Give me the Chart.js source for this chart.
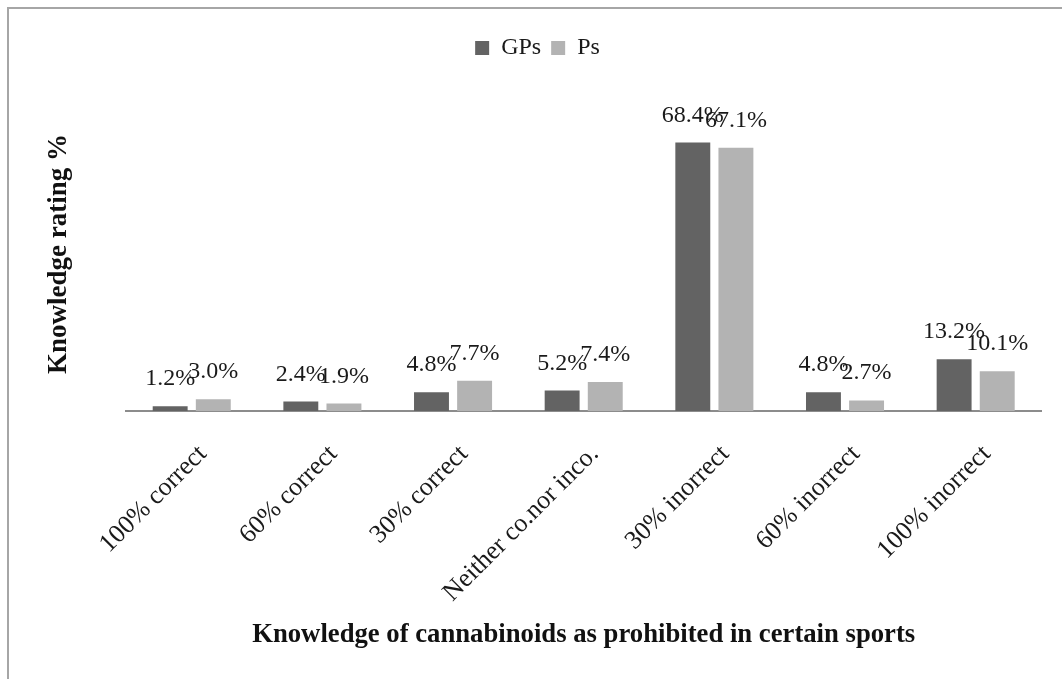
<!DOCTYPE html>
<html>
<head>
<meta charset="utf-8">
<script src="https://cdn.jsdelivr.net/npm/chart.js@4.4.0/dist/chart.umd.min.js"></script>
<style>
  body { margin: 0; background: #fff; }
  #wrap { position: relative; width: 1062px; height: 679px; }
  #frame { position: absolute; left: 7px; top: 7px; right: 0; bottom: 0;
           border-top: 2px solid #a6a6a6; border-left: 2px solid #a6a6a6; pointer-events: none; }
</style>
</head>
<body>
<div id="wrap">
  <canvas id="chart" width="1062" height="679"></canvas>
  <div id="frame"></div>
</div>
<script>
// -------------------- Data --------------------
const categories = ["100% correct", "60% correct", "30% correct", "Neither co.nor inco.",
                    "30% inorrect", "60% inorrect", "100% inorrect"];
const gpsValues = [1.2, 2.4, 4.8, 5.2, 68.4, 4.8, 13.2];
const psValues = [3.0, 1.9, 7.7, 7.4, 67.1, 2.7, 10.1];

const serif = '"Liberation Serif", "Times New Roman", serif';

// value labels above each bar
const barLabels = {
  id: "barLabels",
  afterDatasetsDraw(chart) {
    const ctx = chart.ctx;
    ctx.save();
    ctx.font = "24px " + serif;
    ctx.fillStyle = "#1a1a1a";
    ctx.textAlign = "center";
    ctx.textBaseline = "alphabetic";
    chart.data.datasets.forEach((ds, i) => {
      chart.getDatasetMeta(i).data.forEach((bar, j) => {
        ctx.fillText(ds.data[j].toFixed(1) + "%", bar.x, bar.y - 21);
      });
    });
    ctx.restore();
  }
};

// extra space under the legend, and nudge it a little to the right
const legendTweak = {
  id: "legendTweak",
  beforeInit(chart) {
    const fit = chart.legend.fit;
    chart.legend.fit = function () {
      fit.bind(chart.legend)();
      this.height += 27;
    };
  },
  afterLayout(chart) {
    chart.legend.left += 12;
    chart.legend.right += 12;
  }
};

new Chart(document.getElementById("chart"), {
  type: "bar",
  data: {
    labels: categories,
    datasets: [
      { label: "GPs", data: gpsValues, backgroundColor: "#636363" },
      { label: "Ps", data: psValues, backgroundColor: "#b3b3b3" }
    ]
  },
  options: {
    responsive: false,
    animation: false,
    layout: { padding: { top: 26, right: 21, bottom: 13, left: 10 } },
    datasets: { bar: { categoryPercentage: 0.66, barPercentage: 0.81 } },
    plugins: {
      legend: {
        position: "top",
        labels: { font: { family: serif, size: 24 }, color: "#1a1a1a", boxWidth: 14, boxHeight: 14, padding: 10 }
      },
      tooltip: { enabled: false }
    },
    scales: {
      x: {
        grid: { display: false, drawTicks: false },
        border: { display: true, color: "#8c8c8c", width: 2 },
        ticks: {
          font: { family: serif, size: 26 }, color: "#1a1a1a",
          minRotation: 45, maxRotation: 45, autoSkip: false, padding: 28, labelOffset: 11
        },
        title: {
          display: true, text: "Knowledge of cannabinoids as prohibited in certain sports",
          font: { family: serif, size: 26.7, weight: "bold" }, color: "#111",
          padding: { top: 4, bottom: 15 }
        },
        afterFit(scale) { scale.height = 255; }
      },
      y: {
        min: 0, max: 80,
        grid: { display: false, drawTicks: false },
        border: { display: false },
        ticks: { display: false },
        title: {
          display: true, text: "Knowledge rating %",
          font: { family: serif, size: 27, weight: "bold" }, color: "#111",
          padding: { top: 33, bottom: 51 }
        }
      }
    }
  },
  plugins: [barLabels, legendTweak]
});
</script>
</body>
</html>
